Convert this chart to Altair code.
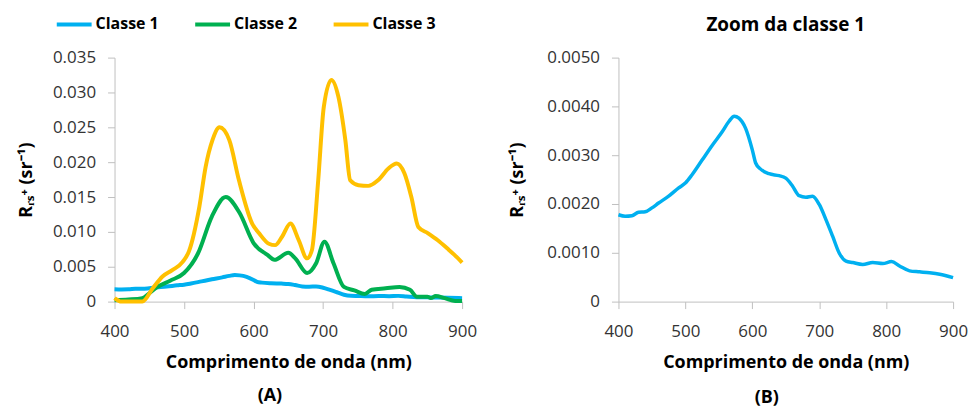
import altair as alt
import pandas as pd

# Spectral curves of remote-sensing reflectance (Rrs+, sr^-1) per water class
wl_c1 = [400, 410, 420, 430, 440, 450, 460, 475, 490, 500, 510, 525, 540, 555, 565,
         573, 580, 590, 600, 605, 612, 625, 640, 650, 660, 670, 680, 690, 700, 710,
         720, 730, 740, 750, 765, 780, 795, 808, 820, 835, 850, 865, 880, 900]
rrs_c1 = [0.00178, 0.00175, 0.00176, 0.00183, 0.00184, 0.00192, 0.00202, 0.00216,
          0.00233, 0.00243, 0.00260, 0.00290, 0.00320, 0.00348, 0.00369, 0.00380,
          0.00376, 0.00355, 0.00311, 0.00284, 0.00272, 0.00262, 0.00258, 0.00253,
          0.00237, 0.00217, 0.00214, 0.00216, 0.00199, 0.00168, 0.00134, 0.00099,
          0.00083, 0.00080, 0.00076, 0.00080, 0.00078, 0.00082, 0.00073, 0.00063,
          0.00061, 0.00059, 0.00056, 0.00049]

wl_c2 = [400, 420, 440, 450, 460, 480, 500, 520, 540, 560, 580, 600, 620, 630, 650,
         660, 677, 690, 702, 715, 730, 745, 760, 770, 790, 810, 825, 835, 850, 855,
         862, 875, 890, 900]
rrs_c2 = [0.0002, 0.0003, 0.0005, 0.0012, 0.0020, 0.0030, 0.0041, 0.0069, 0.0122,
          0.0150, 0.0127, 0.0084, 0.0067, 0.0060, 0.0070, 0.0062, 0.0041, 0.0055,
          0.0086, 0.0055, 0.0021, 0.0016, 0.0011, 0.0017, 0.0019, 0.0021, 0.0017,
          0.0007, 0.0007, 0.0005, 0.0008, 0.0005, 0.0001, 0.0001]

wl_c3 = [400, 410, 440, 455, 469, 483, 498, 507, 522, 531, 541, 551, 565, 579, 598,
         608, 622, 631, 641, 653, 665, 677, 684, 693, 701, 712, 722, 732, 739, 751,
         765, 779, 794, 806, 817, 827, 837, 851, 865, 879, 889, 900]
rrs_c3 = [0.0005, 0.0000, 0.0000, 0.0019, 0.0036, 0.0045, 0.0057, 0.0072, 0.0136,
          0.0193, 0.0232, 0.0250, 0.0232, 0.0174, 0.0112, 0.0098, 0.0083, 0.0081,
          0.0093, 0.0112, 0.0088, 0.0062, 0.0074, 0.0174, 0.0279, 0.0318, 0.0294,
          0.0232, 0.0174, 0.0167, 0.0166, 0.0174, 0.0191, 0.0198, 0.0184, 0.0150,
          0.0107, 0.0098, 0.0088, 0.0076, 0.0067, 0.0056]

classes = ["Classe 1", "Classe 2", "Classe 3"]
colors = ["#00B0F0", "#00B050", "#FFC000"]
x_ticks = [400, 500, 600, 700, 800, 900]

rows = []
for name, wls, vals in zip(classes, [wl_c1, wl_c2, wl_c3], [rrs_c1, rrs_c2, rrs_c3]):
    for w, v in zip(wls, vals):
        rows.append({"classe": name, "wl": w, "rrs": v})
df_all = pd.DataFrame(rows)
df_c1 = df_all[df_all["classe"] == "Classe 1"]

FONT = "Open Sans"
AXIS_GREY = "#BFBFBF"
LABEL_COL = "#333333"
Y_TITLE = "R\u1d63\u209b\u207a (sr\u207b\u00b9)"


def x_axis():
    return alt.Axis(values=x_ticks, title="Comprimento de onda (nm)", grid=False,
                    domainColor=AXIS_GREY, tickColor=AXIS_GREY, tickSize=7,
                    labelFont=FONT, labelFontSize=17, labelColor=LABEL_COL,
                    labelPadding=15, labelFlush=False, labelOverlap=False,
                    titleFont=FONT, titleFontSize=18, titleFontWeight="bold",
                    titleColor="black", titlePadding=14)


def y_axis(values, fmt, title_pad):
    return alt.Axis(values=values, title=Y_TITLE, grid=False,
                    domainColor=AXIS_GREY, tickColor=AXIS_GREY, tickSize=7,
                    labelFont=FONT, labelFontSize=17, labelColor=LABEL_COL,
                    labelPadding=12, labelOverlap=False,
                    labelExpr=f"datum.value == 0 ? '0' : format(datum.value, '{fmt}')",
                    titleFont=FONT, titleFontSize=18, titleFontWeight="bold",
                    titleColor="black", titlePadding=title_pad)


color_scale = alt.Scale(domain=classes, range=colors)

left_lines = alt.Chart(df_all).mark_line(strokeWidth=4, interpolate="monotone").encode(
    x=alt.X("wl:Q", scale=alt.Scale(domain=[400, 900], nice=False), axis=x_axis()),
    y=alt.Y("rrs:Q", scale=alt.Scale(domain=[0, 0.035], nice=False),
            axis=y_axis([0, 0.005, 0.01, 0.015, 0.02, 0.025, 0.03, 0.035], ".3f", 17)),
    color=alt.Color("classe:N", scale=color_scale, legend=alt.Legend(
        title=None, orient="none", direction="horizontal", legendX=-60, legendY=-53,
        symbolType="stroke", symbolSize=1225, symbolStrokeWidth=4,
        labelFont=FONT, labelFontSize=16, labelFontWeight="bold", labelColor="black",
        labelOffset=2, columnPadding=28)),
)

cap_a = alt.Chart(pd.DataFrame({"cap": ["(A)"]})).mark_text(
    font=FONT, fontSize=18, fontWeight="bold", color="black", align="center", baseline="middle"
).encode(x=alt.value(156), y=alt.value(340), text="cap:N")

left = alt.layer(left_lines, cap_a).properties(width=349, height=245)

right_line = alt.Chart(df_c1).mark_line(strokeWidth=3.5, interpolate="monotone",
                                        color=colors[0]).encode(
    x=alt.X("wl:Q", scale=alt.Scale(domain=[400, 900], nice=False), axis=x_axis()),
    y=alt.Y("rrs:Q", scale=alt.Scale(domain=[0, 0.005], nice=False),
            axis=y_axis([0, 0.001, 0.002, 0.003, 0.004, 0.005], ".4f", 20)),
)

cap_b = alt.Chart(pd.DataFrame({"cap": ["(B)"]})).mark_text(
    font=FONT, fontSize=18, fontWeight="bold", color="black", align="center", baseline="middle"
).encode(x=alt.value(149), y=alt.value(342), text="cap:N")

right = alt.layer(right_line, cap_b).properties(
    width=336, height=245,
    title=alt.TitleParams("Zoom da classe 1", font=FONT, fontSize=19, fontWeight="bold",
                          color="black", anchor="middle", offset=14),
)

chart = alt.hconcat(left, right, spacing=31).properties(
    padding={"left": 17, "top": 4, "right": 5, "bottom": 0}
).configure_view(stroke=None)

chart.save("out.html", embed_options={"renderer": "svg", "actions": False})
